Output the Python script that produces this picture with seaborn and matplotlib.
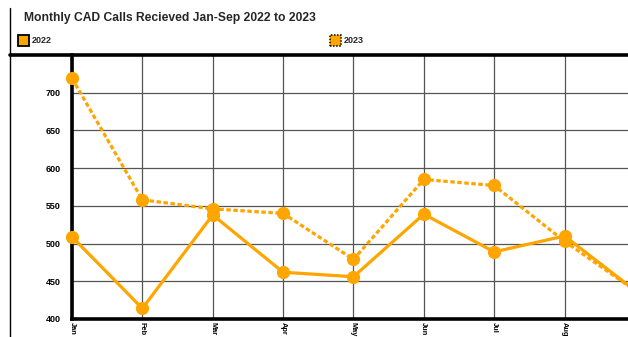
import matplotlib
matplotlib.use("Agg")
import matplotlib.pyplot as plt
from matplotlib.patches import Rectangle
from matplotlib.lines import Line2D
import seaborn as sns
import pandas as pd

months = ["Jan", "Feb", "Mar", "Apr", "May", "Jun", "Jul", "Aug", "Sep"]
calls_2022 = [509, 414, 538, 462, 456, 539, 489, 510, 438]
calls_2023 = [719, 558, 546, 540, 479, 585, 577, 503, 438]
y_ticks = [400, 450, 500, 550, 600, 650, 700]

ORANGE = "#FFA500"

df = pd.DataFrame({
    "pos": list(range(len(months))) * 2,
    "calls": calls_2022 + calls_2023,
    "year": ["2022"] * len(months) + ["2023"] * len(months),
})

sns.set_style("white")
plt.rcParams["font.family"] = ["Liberation Sans", "DejaVu Sans"]

W, H = 628, 337
fig = plt.figure(figsize=(W / 100, H / 100), dpi=100)

# plot area: left edge at x=72px, bottom at y=319px, top at y=55px
left, bottom, top = 72, 319, 55
ax = fig.add_axes([left / W, (H - bottom) / H, 584 / W, (bottom - top) / H])

sns.lineplot(
    data=df, x="pos", y="calls", style="year",
    dashes={"2022": "", "2023": (1.4, 0.8)},
    markers={"2022": "o", "2023": "o"},
    color=ORANGE, linewidth=2.3, markersize=9.5, markeredgewidth=0,
    legend=False, ax=ax, zorder=3,
)
for line in ax.get_lines():
    line.set_clip_on(False)

ax.set_xlim(0, 8.3)
ax.set_ylim(400, 750)
ax.set_yticks(y_ticks)
ax.set_yticklabels([str(v) for v in y_ticks], fontsize=6.5, fontweight="bold")
ax.set_xticks(range(len(months)))
ax.set_xticklabels(months, rotation=-90, fontsize=5.3, fontweight="bold",
                   va="top", ha="center")
ax.set_xlabel("")
ax.set_ylabel("")

ax.grid(True, color="#555555", linewidth=0.9, zorder=0)
ax.set_axisbelow(True)

for side in ("top", "right"):
    ax.spines[side].set_visible(False)
for side in ("left", "bottom"):
    ax.spines[side].set_color("black")
    ax.spines[side].set_linewidth(2.6)

ax.tick_params(axis="y", direction="out", length=6, width=2.6, color="black",
               pad=2, labelcolor="black")
ax.tick_params(axis="x", direction="out", length=1.5, width=1.5, color="black",
               pad=0.5, labelcolor="black")

# outer frame: left border and header separator
fig.add_artist(Line2D([10 / W, 10 / W], [0, 1 - 8 / H], color="black",
                      linewidth=1.0, transform=fig.transFigure))
fig.add_artist(Line2D([10 / W, 1], [1 - 55 / H, 1 - 55 / H], color="black",
                      linewidth=2.6, transform=fig.transFigure))

fig.text(24 / W, 1 - 18 / H, "Monthly CAD Calls Recieved Jan-Sep 2022 to 2023",
         fontsize=8.7, fontweight="bold", va="center", ha="left")

# legend swatches
fig.add_artist(Rectangle((18 / W, 1 - 46 / H), 11 / W, 11 / H,
                         facecolor=ORANGE, edgecolor="black", linewidth=1.3,
                         transform=fig.transFigure))
fig.text(32 / W, 1 - 40.5 / H, "2022", fontsize=6.5, fontweight="bold",
         va="center", ha="left")
fig.add_artist(Rectangle((330 / W, 1 - 46 / H), 11 / W, 11 / H,
                         facecolor=ORANGE, edgecolor="black", linewidth=1.1,
                         linestyle=(0, (1, 1)), transform=fig.transFigure))
fig.text(344 / W, 1 - 40.5 / H, "2023", fontsize=6.5, fontweight="bold",
         va="center", ha="left")

fig.savefig("out.png", dpi=100)
